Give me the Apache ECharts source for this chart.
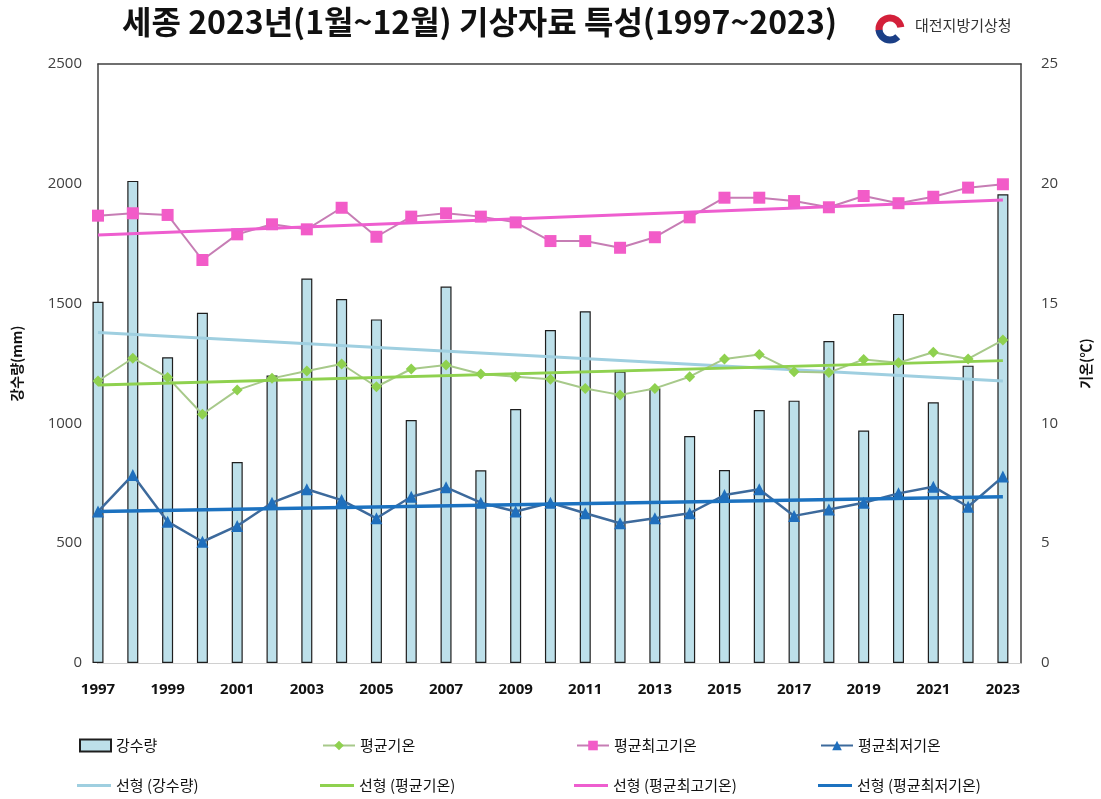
<!DOCTYPE html>
<html>
<head>
<meta charset="utf-8">
<script src="https://cdn.jsdelivr.net/npm/echarts@6/dist/echarts.min.js"></script>
<style>
html,body{margin:0;padding:0;background:#fff;}
#chart{width:1101px;height:799px;}
</style>
</head>
<body>
<div id="chart"></div>
<script>
// ---- data ----
const years = [1997,1998,1999,2000,2001,2002,2003,2004,2005,2006,2007,2008,2009,2010,2011,2012,2013,2014,2015,2016,2017,2018,2019,2020,2021,2022,2023];
const precip = [1508,2012,1276,1462,839,1200,1605,1519,1434,1014,1571,804,1060,1390,1468,1216,1146,947,805,1056,1095,1344,970,1457,1088,1241,1956];
const avgTemp = [11.77,12.72,11.92,10.38,11.39,11.88,12.19,12.48,11.53,12.27,12.44,12.06,11.95,11.84,11.46,11.19,11.46,11.95,12.69,12.88,12.16,12.12,12.67,12.53,12.97,12.69,13.48];
const maxTemp = [18.67,18.77,18.70,16.82,17.89,18.31,18.10,19.00,17.79,18.63,18.77,18.63,18.39,17.61,17.61,17.33,17.77,18.60,19.42,19.42,19.28,19.02,19.49,19.19,19.46,19.84,19.98];
const minTemp = [6.32,7.85,5.90,5.06,5.72,6.69,7.25,6.80,6.04,6.94,7.33,6.69,6.32,6.69,6.25,5.83,6.04,6.25,7.01,7.25,6.14,6.41,6.69,7.08,7.36,6.52,7.78];
// linear trend lines, endpoints
const trendYears = [1997, 2023];
const precipTrend = [1379, 1177];
const avgTrend = [11.60, 12.62];
const maxTrend = [17.86, 19.32];
const minTrend = [6.32, 6.94];
const leftTicks = {min:0, max:2500, interval:500};
const rightTicks = {min:0, max:25, interval:5};

const pairs = (xs, ys) => xs.map((x,i)=>[x, ys[i]]);

const KR = '"Noto Sans CJK KR", "Noto Sans", sans-serif';
const NUM = '"Open Sans", "Noto Sans", sans-serif';

const legendBase = (name, left, top, opts) => Object.assign({
  data:[name], left:left, top:top, itemWidth:32, itemHeight:12, itemGap:6,
  textStyle:{fontFamily:KR, fontSize:15, color:'#111'}, selectedMode:false
}, opts || {});
const trendLegend = (name, left, top) => legendBase(name, left, top, {
  data:[{name:name, icon:'rect'}], itemHeight:3, itemWidth:34
});

const chart = echarts.init(document.getElementById('chart'), null, {renderer:'canvas'});
chart.setOption({
  backgroundColor:'#fff',
  animation:false,
  title:{
    text:'세종 2023년(1월~12월) 기상자료 특성(1997~2023)',
    left:117, top:1,
    textStyle:{fontFamily:KR, fontSize:32, fontWeight:'bold', color:'#111'}
  },
  graphic:[
    {type:'arc', shape:{cx:890, cy:29, r:11, startAngle:Math.PI*0.95, endAngle:Math.PI*1.95}, style:{stroke:'#d3203a', lineWidth:7, fill:null}},
    {type:'arc', shape:{cx:890, cy:29, r:11, startAngle:Math.PI*0.25, endAngle:Math.PI*0.97}, style:{stroke:'#1b3f86', lineWidth:7, fill:null}},
    {type:'text', left:915, top:18, style:{text:'대전지방기상청', fontFamily:KR, fontSize:15, fill:'#333'}}
  ],
  legend:[
    legendBase('강수량', 74, 733, {data:[{name:'강수량', icon:'rect'}], itemWidth:31, itemHeight:12}),
    legendBase('평균기온', 317, 733),
    legendBase('평균최고기온', 571, 733),
    legendBase('평균최저기온', 815, 733),
    trendLegend('선형 (강수량)', 72, 773),
    trendLegend('선형 (평균기온)', 315, 773),
    trendLegend('선형 (평균최고기온)', 569, 773),
    trendLegend('선형 (평균최저기온)', 813, 773)
  ],
  grid:{left:98, right:73, top:64, bottom:136, containLabel:false},
  xAxis:[
    {type:'value', min:years[0], max:2023.52, interval:2, position:'bottom',
     axisLine:{show:true, lineStyle:{color:'#d0d0d0', width:1}},
     axisTick:{show:false}, splitLine:{show:false},
     axisLabel:{showMaxLabel:false, margin:19, fontFamily:NUM, fontSize:15, fontWeight:'bold', color:'#111',
       formatter:v=>String(v)}},
    {type:'value', min:years[0], max:2023.52, position:'top',
     axisLine:{show:true, onZero:false, lineStyle:{color:'#404040', width:1.5}},
     axisTick:{show:false}, axisLabel:{show:false}, splitLine:{show:false}}
  ],
  yAxis:[
    {type:'value', min:leftTicks.min, max:leftTicks.max, interval:leftTicks.interval, position:'left',
     name:'강수량(mm)', nameLocation:'middle', nameGap:74, nameRotate:90,
     nameTextStyle:{fontFamily:KR, fontSize:14, fontWeight:'bold', color:'#111'},
     axisLine:{show:true, lineStyle:{color:'#404040', width:1.5}},
     axisTick:{show:false}, splitLine:{show:false},
     axisLabel:{margin:16, fontFamily:NUM, fontSize:15, color:'#404040', formatter:v=>String(v)}},
    {type:'value', min:rightTicks.min, max:rightTicks.max, interval:rightTicks.interval, position:'right',
     name:'기온(℃)', nameLocation:'middle', nameGap:58, nameRotate:90,
     nameTextStyle:{fontFamily:KR, fontSize:14, fontWeight:'bold', color:'#111'},
     axisLine:{show:true, lineStyle:{color:'#404040', width:1.5}},
     axisTick:{show:false}, splitLine:{show:false},
     axisLabel:{margin:20, fontFamily:NUM, fontSize:15, color:'#404040', formatter:v=>String(v)}}
  ],
  series:[
    {name:'강수량', type:'bar', xAxisIndex:0, yAxisIndex:0, barWidth:11, clip:true, z:1,
     itemStyle:{color:'#bde0ea', borderColor:'#1e1e1e', borderWidth:1.2},
     data:pairs(years, precip)},
    {name:'선형 (강수량)', type:'line', yAxisIndex:0, symbol:'none', z:3,
     lineStyle:{color:'#9fcfe0', width:3}, itemStyle:{color:'#9fcfe0'},
     data:pairs(trendYears, precipTrend)},
    {name:'평균기온', type:'line', yAxisIndex:1, symbol:'diamond', symbolSize:11, z:4,
     lineStyle:{color:'#a7c98a', width:2}, itemStyle:{color:'#8fd14f'},
     data:pairs(years, avgTemp)},
    {name:'선형 (평균기온)', type:'line', yAxisIndex:1, symbol:'none', z:5,
     lineStyle:{color:'#8fd14f', width:3}, itemStyle:{color:'#8fd14f'},
     data:pairs(trendYears, avgTrend)},
    {name:'평균최고기온', type:'line', yAxisIndex:1, symbol:'rect', symbolSize:12, z:4,
     lineStyle:{color:'#c67db4', width:2}, itemStyle:{color:'#f25cc8'},
     data:pairs(years, maxTemp)},
    {name:'선형 (평균최고기온)', type:'line', yAxisIndex:1, symbol:'none', z:5,
     lineStyle:{color:'#ee5ecf', width:3}, itemStyle:{color:'#ee5ecf'},
     data:pairs(trendYears, maxTrend)},
    {name:'평균최저기온', type:'line', yAxisIndex:1, symbol:'triangle', symbolSize:12, z:4,
     lineStyle:{color:'#3d6a9c', width:2.5}, itemStyle:{color:'#1f6fbd'},
     data:pairs(years, minTemp)},
    {name:'선형 (평균최저기온)', type:'line', yAxisIndex:1, symbol:'none', z:5,
     lineStyle:{color:'#1c72c0', width:3.5}, itemStyle:{color:'#1c72c0'},
     data:pairs(trendYears, minTrend)}
  ]
});
</script>
</body>
</html>
